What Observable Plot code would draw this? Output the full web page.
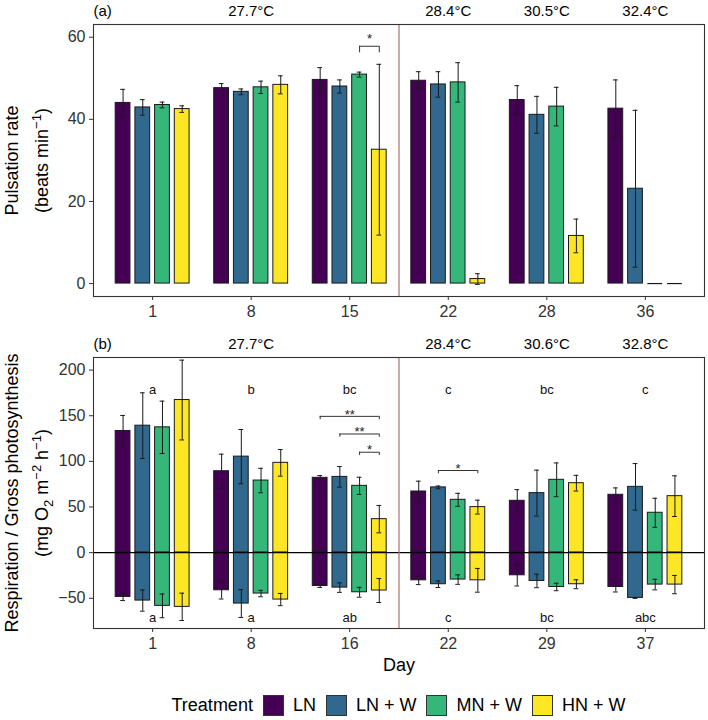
<!DOCTYPE html>
<html>
<head>
<meta charset="utf-8">
<script src="https://cdn.jsdelivr.net/npm/d3@7"></script>
<script src="https://cdn.jsdelivr.net/npm/@observablehq/plot@0.6"></script>
<style>
  body { margin: 0; background: #fff; font-family: "Liberation Sans", Arial, sans-serif; }
  #wrap { position: relative; width: 708px; height: 720px; overflow: hidden; background: #fff; }
  #pa { position: absolute; left: 0; top: 0; }
  #pb { position: absolute; left: 0; top: 330px; }
  #legend { position: absolute; left: 93px; width: 611px; top: 695px; height: 21px;
            display: flex; justify-content: center; align-items: center;
            font-size: 18px; color: #000; white-space: nowrap; }
  .key { width: 19px; height: 19px; border: 1px solid #333; flex: none; }
  .lab { line-height: 21px; }
</style>
</head>
<body>
<div id="wrap">
  <div id="pa"></div>
  <div id="pb"></div>
  <div id="legend"></div>
</div>
<script>
// ---------------- data ----------------
const treatments = ["LN", "LN + W", "MN + W", "HN + W"];
const fills = ["#440154", "#31688E", "#35B779", "#FDE725"];

const daysA = [1, 8, 15, 22, 28, 36];
const daysB = [1, 8, 16, 22, 29, 37];

const tempsA = ["27.7°C", "28.4°C", "30.5°C", "32.4°C"];
const tempsB = ["27.7°C", "28.4°C", "30.6°C", "32.8°C"];
const tempDayIndex = [1, 3, 4, 5];

// Panel (a): pulsation rate (beats min-1), rows = treatments, cols = days
const pulseMean = [
  [44.0, 47.6, 49.6, 49.4, 44.7, 42.6],
  [42.9, 46.7, 48.0, 48.5, 41.1, 23.1],
  [43.5, 47.8, 50.9, 49.0, 43.1, 0],
  [42.5, 48.4, 32.6, 1.1, 11.6, 0]
];
const pulseSE = [
  [3.3, 1.1, 3.0, 2.2, 3.5, 7.0],
  [1.9, 0.7, 1.6, 3.1, 4.5, 19.1],
  [0.7, 1.5, 0.6, 4.8, 4.7, null],
  [0.8, 2.2, 20.8, 1.3, 4.1, null]
];

// Panel (b): gross photosynthesis (positive) and respiration (negative)
const gpMean = [
  [133.3, 89.2, 82.0, 67.0, 56.8, 63.4],
  [139.1, 105.2, 83.0, 71.5, 65.2, 72.1],
  [137.3, 79.0, 73.2, 57.9, 79.8, 43.7],
  [167.2, 98.4, 36.7, 49.9, 76.1, 61.9]
];
const gpSE = [
  [17.0, 18.7, 2.4, 11.3, 12.2, 7.5],
  [36.0, 29.7, 11.3, 1.5, 25.2, 25.5],
  [28.7, 13.4, 9.4, 7.1, 18.5, 15.9],
  [43.7, 14.6, 15.0, 7.6, 8.6, 22.3]
];
const respMean = [
  [-48.5, -41.2, -36.5, -30.3, -24.8, -37.6],
  [-52.5, -55.8, -38.3, -34.6, -31.0, -49.6],
  [-58.3, -44.8, -43.4, -29.5, -37.6, -35.0],
  [-59.4, -51.4, -41.5, -30.3, -34.6, -35.0]
];
const respSE = [
  [4.0, 9.6, 1.6, 4.7, 11.7, 5.5],
  [11.6, 15.2, 5.2, 3.6, 7.4, 0.5],
  [13.0, 3.5, 5.4, 5.2, 4.1, 5.8],
  [15.0, 6.7, 13.1, 13.0, 4.9, 10.0]
];

const gpLetters = ["a", "b", "bc", "c", "bc", "c"];
const respLetters = ["a", "a", "ab", "c", "bc", "abc"];
const gpLetterY = 178;
const respLetterY = -71;

// significance brackets: day index, from / to treatment index, bracket height, label
const sigA = [{day: 2, from: 2, to: 3, y: 57.8, label: "*"}];
const sigB = [
  {day: 2, from: 0, to: 3, y: 149.3, label: "**"},
  {day: 2, from: 1, to: 3, y: 130.0, label: "**"},
  {day: 2, from: 2, to: 3, y: 110.0, label: "*"},
  {day: 3, from: 1, to: 3, y: 90.0, label: "*"}
];

// ---------------- drawing ----------------
const DODGE = 0.2, BARW = 0.15, CAP = 0.024;
const INK = "#1a1a1a";
const FONT = "'Liberation Sans', Arial, sans-serif";
const xOf = (i, t) => i + (t - 1.5) * DODGE;

function rowsFor(mean, se) {
  const out = [];
  mean.forEach((arr, t) => arr.forEach((v, i) =>
    out.push({t, i, trt: treatments[t], x: xOf(i, t), v, se: se[t][i]})));
  return out;
}

function barMarks(rows) {
  const bars = rows.filter(d => d.v !== 0);
  const flat = rows.filter(d => d.v === 0);
  const errs = rows.filter(d => d.se != null);
  return [
    Plot.rect(bars, {x1: d => d.x - BARW / 2, x2: d => d.x + BARW / 2, y1: 0, y2: "v",
                     fill: "trt", stroke: INK, strokeWidth: 1}),
    Plot.ruleY(flat, {y: "v", x1: d => d.x - BARW / 2, x2: d => d.x + BARW / 2, stroke: INK, strokeWidth: 1.2}),
    Plot.ruleX(errs, {x: "x", y1: d => d.v - d.se, y2: d => d.v + d.se, stroke: INK, strokeWidth: 1}),
    Plot.ruleY(errs, {y: d => d.v - d.se, x1: d => d.x - CAP, x2: d => d.x + CAP, stroke: INK, strokeWidth: 1}),
    Plot.ruleY(errs, {y: d => d.v + d.se, x1: d => d.x - CAP, x2: d => d.x + CAP, stroke: INK, strokeWidth: 1})
  ];
}

function sigMarks(sig, tip, starDy) {
  return [
    Plot.ruleY(sig, {y: "y", x1: d => xOf(d.day, d.from), x2: d => xOf(d.day, d.to), stroke: "#333", strokeWidth: 1}),
    Plot.ruleX(sig, {x: d => xOf(d.day, d.from), y1: d => d.y - tip, y2: "y", stroke: "#333", strokeWidth: 1}),
    Plot.ruleX(sig, {x: d => xOf(d.day, d.to), y1: d => d.y - tip, y2: "y", stroke: "#333", strokeWidth: 1}),
    Plot.text(sig, {x: d => (xOf(d.day, d.from) + xOf(d.day, d.to)) / 2, y: "y", text: "label",
                    dy: starDy, fontSize: 13, fill: "#222"})
  ];
}

function commonMarks({days, yTicks, temps, tag, title1, title2}) {
  return [
    Plot.ruleX([2.5], {stroke: "#b0706a", strokeWidth: 1.2}),
    Plot.frame({stroke: "#333", strokeWidth: 1.1}),
    Plot.axisY({ticks: yTicks, tickSize: 4, tickPadding: 4, fontSize: 16, label: null}),
    Plot.axisX({ticks: [0, 1, 2, 3, 4, 5], tickFormat: i => days[i], tickSize: 4,
                tickPadding: 5, fontSize: 16, label: null}),
    Plot.text(temps.map((s, k) => ({s, i: tempDayIndex[k]})),
              {x: "i", text: "s", frameAnchor: "top", lineAnchor: "middle", dy: -13.5,
               fontSize: 15, fill: "#000"}),
    Plot.text([tag], {text: d => d, frameAnchor: "top-left", textAnchor: "start", lineAnchor: "middle",
                      dy: -13.5, fontSize: 15, fill: "#000"}),
    Plot.text([title1], {text: d => d, frameAnchor: "left", textAnchor: "middle", lineAnchor: "middle",
                         dx: -81, rotate: -90, fontSize: 18, fill: "#000"}),
    Plot.text([title2], {text: d => d, frameAnchor: "left", textAnchor: "middle", lineAnchor: "middle",
                         dx: -51, rotate: -90, fontSize: 18, fill: "#000"})
  ];
}

const baseOpts = {
  width: 708, marginLeft: 93, marginRight: 4,
  x: {domain: [-0.6, 5.6]},
  color: {domain: treatments, range: fills},
  style: {fontFamily: FONT, color: "#333", background: "#fff", overflow: "visible"}
};

// Panel (a)
const rowsA = rowsFor(pulseMean, pulseSE);
const plotA = Plot.plot({
  ...baseOpts,
  height: 330, marginTop: 24, marginBottom: 34,
  y: {domain: [-3.15, 63.1]},
  marks: [
    ...barMarks(rowsA),
    ...sigMarks(sigA, 1.6, -7),
    ...commonMarks({days: daysA, yTicks: [0, 20, 40, 60], temps: tempsA, tag: "(a)",
                    title1: "Pulsation rate", title2: "(beats min-1)"})
  ]
});

// Panel (b)
const rowsGP = rowsFor(gpMean, gpSE);
const rowsR = rowsFor(respMean, respSE);
const plotB = Plot.plot({
  ...baseOpts,
  height: 360, marginTop: 27, marginBottom: 62,
  y: {domain: [-83.1, 213.8]},
  marks: [
    ...barMarks(rowsGP),
    ...barMarks(rowsR),
    Plot.ruleY([0], {stroke: "#000", strokeWidth: 1.1}),
    ...sigMarks(sigB, 3.6, -2),
    Plot.text(gpLetters, {x: (d, i) => i, y: gpLetterY, text: d => d, fontSize: 13, fill: "#111"}),
    Plot.text(respLetters, {x: (d, i) => i, y: respLetterY, text: d => d, fontSize: 13, fill: "#111"}),
    Plot.text(["Day"], {text: d => d, frameAnchor: "bottom", lineAnchor: "middle", dy: 37,
                        fontSize: 18, fill: "#000"}),
    ...commonMarks({days: daysB, yTicks: [-50, 0, 50, 100, 150, 200], temps: tempsB, tag: "(b)",
                    title1: "Respiration / Gross photosynthesis", title2: "(mg O2 m-2 h-1)"})
  ]
});

// rich text (sub/superscripts) for axis titles
const NS = "http://www.w3.org/2000/svg";
function richify(svg, plain, segs, fs) {
  d3.select(svg).selectAll("text").filter(function () { return this.textContent === plain; })
    .each(function () {
      this.textContent = "";
      let shift = 0;
      for (const [s, k] of segs) {
        const target = k === 1 ? -0.38 * fs : k === -1 ? 0.24 * fs : 0;
        const ts = document.createElementNS(NS, "tspan");
        ts.setAttribute("dy", (target - shift) + "px");
        shift = target;
        if (k) ts.setAttribute("font-size", (fs * 0.72) + "px");
        ts.textContent = s;
        this.appendChild(ts);
      }
    });
}
richify(plotA, "(beats min-1)", [["(beats min", 0], ["\u22121", 1], [")", 0]], 18);
richify(plotB, "(mg O2 m-2 h-1)", [["(mg O", 0], ["2", -1], [" m", 0], ["\u22122", 1], [" h", 0], ["\u22121", 1], [")", 0]], 18);

document.getElementById("pa").appendChild(plotA);
document.getElementById("pb").appendChild(plotB);

// legend
const legend = document.getElementById("legend");
const tl = document.createElement("span");
tl.className = "lab"; tl.textContent = "Treatment"; tl.style.marginRight = "10px";
legend.appendChild(tl);
treatments.forEach((t, k) => {
  const key = document.createElement("span");
  key.className = "key"; key.style.background = fills[k]; key.style.marginRight = "9px";
  legend.appendChild(key);
  const lab = document.createElement("span");
  lab.className = "lab"; lab.textContent = t;
  if (k < treatments.length - 1) lab.style.marginRight = "10px";
  legend.appendChild(lab);
});
</script>
</body>
</html>
